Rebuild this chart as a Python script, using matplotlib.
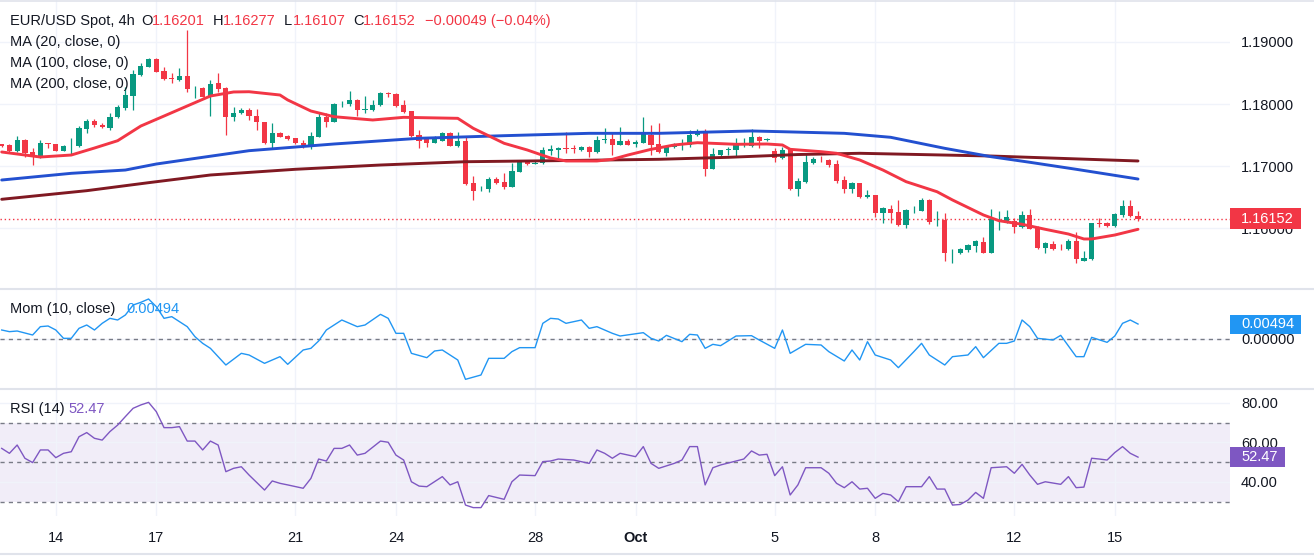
import matplotlib
matplotlib.use('Agg')
import matplotlib.pyplot as plt
import matplotlib.transforms as mtransforms
from matplotlib.patches import Rectangle
from matplotlib.lines import Line2D
import numpy as np

plt.rcParams['font.family'] = ['Liberation Sans', 'DejaVu Sans']

# ---------------- data (EUR/USD 4h candles) ----------------
opens = [1.17355, 1.17339, 1.17247, 1.17419, 1.17220, 1.17134, 1.17366, 1.17350, 1.17242, 1.17320,
         1.17323, 1.17597, 1.17726, 1.17661, 1.17618, 1.17785, 1.17930, 1.18134, 1.18468, 1.18602,
         1.18726, 1.18532, 1.18414, 1.18387, 1.18452, 1.18258, 1.18253, 1.18108, 1.18333, 1.18253,
         1.17796, 1.17849, 1.17903, 1.17812, 1.17704, 1.17366, 1.17527, 1.17484, 1.17446, 1.17366,
         1.17301, 1.17473, 1.17796, 1.17710, 1.18015, 1.18000, 1.18065, 1.17905, 1.17903, 1.17984,
         1.18177, 1.18161, 1.17984, 1.17887, 1.17495, 1.17430, 1.17376, 1.17409, 1.17527, 1.17328,
         1.17403, 1.16720, 1.16624, 1.16624, 1.16790, 1.16742, 1.16667, 1.16909, 1.17059, 1.17040,
         1.17043, 1.17247, 1.17258, 1.17296, 1.17290, 1.17258, 1.17312, 1.17231, 1.17425, 1.17435,
         1.17339, 1.17409, 1.17350, 1.17376, 1.17500, 1.17355, 1.17215, 1.17301, 1.17339, 1.17339,
         1.17505, 1.17527, 1.16952, 1.17177, 1.17265, 1.17258, 1.17333, 1.17323, 1.17473, 1.17425,
         1.17247, 1.17124, 1.17269, 1.16624, 1.16747, 1.17043, 1.17110, 1.17097, 1.17027, 1.16774,
         1.16624, 1.16720, 1.16495, 1.16532, 1.16237, 1.16301, 1.16258, 1.16054, 1.16285, 1.16280,
         1.16452, 1.16125, 1.16129, 1.15598, 1.15591, 1.15645, 1.15715, 1.15780, 1.15602, 1.16113,
         1.16118, 1.16118, 1.16011, 1.16210, 1.15995, 1.15683, 1.15742, 1.15660, 1.15656, 1.15790,
         1.15473, 1.15500, 1.16086, 1.16075, 1.16032, 1.16210, 1.16355, 1.16201]
highs = [1.17360, 1.17355, 1.17484, 1.17430, 1.17296, 1.17419, 1.17370, 1.17360, 1.17339, 1.17446,
         1.17645, 1.17753, 1.17753, 1.17688, 1.17849, 1.17984, 1.18280, 1.18548, 1.18656, 1.18747,
         1.18737, 1.18602, 1.18505, 1.18575, 1.19194, 1.18290, 1.18280, 1.18387, 1.18505, 1.18280,
         1.17946, 1.17930, 1.17930, 1.17914, 1.17715, 1.17688, 1.17554, 1.17495, 1.17450, 1.17419,
         1.17554, 1.17866, 1.17849, 1.18022, 1.18054, 1.18210, 1.18075, 1.18129, 1.18065, 1.18199,
         1.18194, 1.18172, 1.18065, 1.17890, 1.17581, 1.17462, 1.17484, 1.17554, 1.17554, 1.17554,
         1.17462, 1.16839, 1.16683, 1.16817, 1.16828, 1.16892, 1.17043, 1.17070, 1.17081, 1.17097,
         1.17301, 1.17339, 1.17301, 1.17543, 1.17339, 1.17323, 1.17315, 1.17484, 1.17608, 1.17527,
         1.17634, 1.17430, 1.17419, 1.17796, 1.17661, 1.17699, 1.17323, 1.17376, 1.17430, 1.17581,
         1.17591, 1.17591, 1.17285, 1.17262, 1.17301, 1.17446, 1.17446, 1.17591, 1.17484, 1.17457,
         1.17285, 1.17312, 1.17285, 1.16801, 1.17215, 1.17151, 1.17161, 1.17108, 1.17097, 1.16839,
         1.16747, 1.16731, 1.16613, 1.16535, 1.16344, 1.16371, 1.16452, 1.16301, 1.16355, 1.16484,
         1.16462, 1.16274, 1.16237, 1.15656, 1.15672, 1.15742, 1.15806, 1.15860, 1.16301, 1.16280,
         1.16290, 1.16156, 1.16274, 1.16301, 1.16032, 1.15780, 1.15796, 1.15742, 1.15817, 1.15941,
         1.15634, 1.16086, 1.16156, 1.16102, 1.16237, 1.16452, 1.16452, 1.16277]
lows = [1.17310, 1.17231, 1.17231, 1.17151, 1.17016, 1.17124, 1.17285, 1.17235, 1.17236, 1.17177,
        1.17312, 1.17538, 1.17634, 1.17608, 1.17581, 1.17769, 1.17903, 1.17903, 1.18452, 1.18591,
        1.18511, 1.18387, 1.18344, 1.18371, 1.18199, 1.18091, 1.18108, 1.17806, 1.18199, 1.17500,
        1.17731, 1.17839, 1.17742, 1.17581, 1.17355, 1.17285, 1.17462, 1.17419, 1.17355, 1.17285,
        1.17274, 1.17462, 1.17634, 1.17704, 1.17946, 1.17973, 1.17806, 1.17860, 1.17892, 1.17973,
        1.18118, 1.17957, 1.17849, 1.17462, 1.17296, 1.17301, 1.17366, 1.17398, 1.17317, 1.17312,
        1.16688, 1.16452, 1.16602, 1.16586, 1.16704, 1.16624, 1.16656, 1.16898, 1.17011, 1.17027,
        1.17032, 1.17177, 1.17086, 1.17204, 1.17215, 1.17247, 1.17140, 1.17204, 1.17376, 1.17177,
        1.17335, 1.17335, 1.17312, 1.17366, 1.17177, 1.17215, 1.17161, 1.17285, 1.17258, 1.17312,
        1.17484, 1.16839, 1.16946, 1.17151, 1.17177, 1.17161, 1.17312, 1.17312, 1.17285, 1.17398,
        1.17070, 1.17108, 1.16613, 1.16516, 1.16731, 1.17032, 1.17070, 1.16978, 1.16720, 1.16559,
        1.16559, 1.16478, 1.16484, 1.16183, 1.16086, 1.16075, 1.16032, 1.15995, 1.16237, 1.16269,
        1.16065, 1.16032, 1.15473, 1.15430, 1.15581, 1.15618, 1.15618, 1.15591, 1.15598, 1.15968,
        1.16086, 1.15925, 1.15995, 1.15978, 1.15661, 1.15591, 1.15645, 1.15645, 1.15645, 1.15430,
        1.15462, 1.15484, 1.16022, 1.16011, 1.16022, 1.16183, 1.16183, 1.16107]
closes = [1.17323, 1.17247, 1.17419, 1.17215, 1.17140, 1.17366, 1.17355, 1.17242, 1.17323, 1.17328,
          1.17618, 1.17726, 1.17661, 1.17624, 1.17796, 1.17946, 1.18145, 1.18479, 1.18613, 1.18726,
          1.18522, 1.18409, 1.18398, 1.18452, 1.18242, 1.18263, 1.18118, 1.18323, 1.18237, 1.17796,
          1.17849, 1.17903, 1.17812, 1.17704, 1.17366, 1.17527, 1.17473, 1.17441, 1.17366, 1.17333,
          1.17484, 1.17796, 1.17710, 1.18000, 1.18022, 1.18065, 1.17903, 1.17914, 1.17984, 1.18183,
          1.18161, 1.17973, 1.17871, 1.17484, 1.17409, 1.17376, 1.17457, 1.17538, 1.17328, 1.17403,
          1.16710, 1.16602, 1.16629, 1.16790, 1.16731, 1.16667, 1.16914, 1.17059, 1.17027, 1.17043,
          1.17258, 1.17274, 1.17290, 1.17274, 1.17280, 1.17301, 1.17231, 1.17419, 1.17430, 1.17339,
          1.17403, 1.17339, 1.17392, 1.17511, 1.17339, 1.17231, 1.17312, 1.17339, 1.17366, 1.17500,
          1.17527, 1.16952, 1.17194, 1.17258, 1.17269, 1.17339, 1.17350, 1.17473, 1.17409, 1.17430,
          1.17124, 1.17258, 1.16624, 1.16758, 1.17070, 1.17113, 1.17105, 1.17016, 1.16763, 1.16624,
          1.16720, 1.16495, 1.16532, 1.16237, 1.16328, 1.16247, 1.16054, 1.16290, 1.16290, 1.16452,
          1.16102, 1.16129, 1.15591, 1.15602, 1.15661, 1.15726, 1.15796, 1.15602, 1.16140, 1.16129,
          1.16172, 1.16011, 1.16210, 1.15984, 1.15683, 1.15753, 1.15656, 1.15656, 1.15790, 1.15495,
          1.15522, 1.16075, 1.16059, 1.16032, 1.16226, 1.16355, 1.16199, 1.16152]

# moving averages (bar index, value)
ma20_idx = [0, 5, 9, 12, 15, 18, 21, 24, 27, 30, 32, 36, 37, 40, 43, 48, 52, 59, 61, 65, 68, 71,
            73, 77, 79, 81, 84, 87, 90, 95, 99, 101, 102, 106, 108, 111, 114, 117, 121, 123, 127,
            129, 132, 135, 138, 140, 141, 144, 147]
ma20_val = [1.17226, 1.17145, 1.17177, 1.17290, 1.17408, 1.17645, 1.17806, 1.17968, 1.18129,
            1.18194, 1.18198, 1.18145, 1.18065, 1.17887, 1.17795, 1.17742, 1.17785, 1.17769,
            1.17608, 1.17366, 1.17258, 1.17129, 1.17081, 1.17081, 1.17108, 1.17177, 1.17269,
            1.17339, 1.17376, 1.17350, 1.17355, 1.17339, 1.17269, 1.17231, 1.17205, 1.17097,
            1.16935, 1.16747, 1.16585, 1.16452, 1.16210, 1.16118, 1.16060, 1.15979, 1.15903,
            1.15823, 1.15823, 1.15887, 1.15979]
ma100_idx = [0, 9, 16, 20, 26, 32, 43, 54, 65, 76, 85, 97, 101, 109, 115, 122, 128, 133, 139, 147]
ma100_val = [1.16774, 1.16882, 1.16935, 1.17032, 1.17140, 1.17247, 1.17355, 1.17447, 1.17489,
             1.17527, 1.17527, 1.17565, 1.17553, 1.17527, 1.17463, 1.17285, 1.17150, 1.17060,
             1.16947, 1.16790]
ma200_idx = [0, 11, 19, 27, 38, 49, 60, 71, 85, 94, 103, 111, 128, 147]
ma200_val = [1.16463, 1.16602, 1.16731, 1.16855, 1.16947, 1.17016, 1.17069, 1.17085, 1.17108,
             1.17140, 1.17185, 1.17205, 1.17161, 1.17081]

# Momentum (10, close)
mom_idx = [0, 1, 2, 4, 5, 6, 7, 8, 9, 10, 11, 12, 13, 14, 15, 16, 17, 18, 19, 20, 21, 22, 24, 25,
           26, 27, 29, 31, 32, 34, 36, 37, 39, 40, 41, 42, 44, 45, 46, 47, 49, 50, 51, 52, 53, 55,
           56, 57, 59, 60, 62, 63, 65, 66, 67, 69, 70, 71, 72, 73, 75, 76, 77, 79, 80, 83, 84, 85,
           86, 88, 89, 90, 91, 92, 93, 95, 97, 98, 100, 101, 102, 104, 106, 107, 109, 110, 111,
           112, 113, 115, 116, 118, 119, 120, 122, 123, 125, 126, 127, 129, 130, 131, 132, 133,
           134, 136, 137, 139, 140, 141, 143, 144, 145, 146, 147]
mom_val = [0.00297, 0.00242, 0.00264, 0.00132, 0.00407, 0.00429, 0.00297, 0.00022, 0.00022,
           0.00352, 0.00462, 0.00297, 0.00517, 0.00682, 0.00627, 0.00792, 0.01122, 0.01210,
           0.01320, 0.01067, 0.00682, 0.00737, 0.00407, 0.00077, -0.00143, -0.00308, -0.00858,
           -0.00473, -0.00528, -0.00803, -0.00583, -0.00836, -0.00363, -0.00308, -0.00066,
           0.00297, 0.00627, 0.00517, 0.00407, 0.00462, 0.00814, 0.00682, 0.00187, 0.00187,
           -0.00473, -0.00616, -0.00396, -0.00363, -0.00693, -0.01331, -0.01188, -0.00638,
           -0.00638, -0.00418, -0.00286, -0.00286, 0.00517, 0.00682, 0.00660, 0.00517, 0.00627,
           0.00352, 0.00407, 0.00187, 0.00099, 0.00209, 0.00022, -0.00066, 0.00121, -0.00088,
           0.00154, 0.00132, -0.00308, -0.00176, -0.00220, 0.00099, 0.00110, -0.00033, -0.00308,
           0.00297, -0.00473, -0.00176, -0.00198, -0.00418, -0.00726, -0.00363, -0.00693,
           -0.00088, -0.00528, -0.00693, -0.00946, -0.00418, -0.00143, -0.00528, -0.00858,
           -0.00583, -0.00528, -0.00253, -0.00616, -0.00143, -0.00143, -0.00066, 0.00627,
           0.00407, 0.00022, -0.00033, 0.00121, -0.00583, -0.00583, 0.00055, -0.00110, 0.00099,
           0.00517, 0.00627, 0.00494]

# RSI (14)
rsi_idx = [0, 1, 2, 3, 4, 5, 6, 7, 8, 9, 10, 11, 12, 13, 14, 15, 16, 17, 18, 19, 20, 21, 22, 23,
           24, 25, 26, 27, 28, 29, 30, 31, 32, 34, 35, 36, 37, 39, 40, 41, 42, 43, 44, 45, 46, 47,
           49, 50, 51, 52, 53, 54, 55, 57, 58, 59, 60, 61, 62, 63, 65, 66, 67, 69, 70, 71, 72, 74,
           76, 77, 78, 79, 80, 82, 83, 84, 85, 87, 88, 89, 90, 91, 92, 93, 95, 96, 97, 98, 99,
           100, 101, 102, 103, 104, 106, 107, 108, 109, 110, 111, 112, 113, 114, 115, 116, 117,
           119, 120, 121, 122, 123, 124, 125, 126, 127, 128, 130, 131, 132, 133, 134, 135, 137,
           138, 139, 140, 141, 142, 143, 144, 145, 146, 147]
rsi_val = [56.9, 54.4, 58.6, 51.9, 49.7, 56.1, 56.1, 52.2, 54.4, 55.2, 62.8, 64.9, 62.0, 61.1,
           65.4, 68.7, 73.0, 77.2, 78.9, 80.2, 75.5, 67.4, 67.4, 67.9, 60.6, 60.6, 56.1, 60.6,
           58.6, 45.1, 46.8, 47.6, 43.4, 35.8, 40.4, 39.2, 38.4, 36.7, 41.7, 51.5, 50.5, 56.9,
           56.9, 58.6, 53.5, 54.4, 60.6, 60.0, 53.5, 51.0, 40.0, 37.8, 37.5, 42.6, 38.4, 40.0,
           28.2, 26.9, 26.9, 33.0, 31.1, 40.0, 43.4, 43.1, 50.2, 50.5, 51.5, 51.0, 49.3, 56.1,
           54.4, 51.9, 54.4, 52.7, 57.8, 49.3, 46.8, 49.3, 51.0, 57.8, 57.8, 38.4, 47.1, 48.5,
           50.5, 51.5, 55.6, 53.5, 53.9, 43.1, 47.6, 33.3, 38.4, 47.1, 47.1, 44.3, 39.2, 37.0,
           40.0, 36.3, 36.7, 31.6, 34.1, 33.3, 29.9, 37.5, 37.5, 42.6, 36.3, 36.3, 28.2, 28.5,
           30.7, 34.6, 31.6, 47.1, 47.6, 44.3, 48.8, 43.4, 38.7, 40.0, 38.7, 42.6, 37.0, 37.3,
           51.9, 51.5, 51.0, 54.8, 57.8, 54.4, 52.47]

tick_idx = [7, 20, 38, 51, 69, 82, 100, 113, 131, 144]
tick_labels = ['14', '17', '21', '24', '28', 'Oct', '5', '8', '12', '15']
price_ticks = [1.16, 1.17, 1.18, 1.19]
rsi_ticks = [40, 60, 80]
last_price = 1.16152
last_mom = 0.00494
last_rsi = 52.47

# ---------------- style ----------------
GREEN = '#089981'
RED = '#F23645'
BLUE_MA = '#2350D0'
MAROON = '#801922'
MOMC = '#2196F3'
RSIC = '#7E57C2'
TXT = '#131722'
GRID = '#F0F3FA'
SEP = '#E0E3EB'

W, H = 1314, 556
fig = plt.figure(figsize=(W / 100, H / 100), dpi=100)
fig.patch.set_facecolor('white')


def fy(y):
    return 1 - y / H


AXW = 1230 / W
ax = fig.add_axes([0, fy(288), AXW, 288 / H])
axm = fig.add_axes([0, fy(388), AXW, 98 / H], sharex=ax)
axr = fig.add_axes([0, fy(516), AXW, 126 / H], sharex=ax)

for a in (ax, axm, axr):
    for s in a.spines.values():
        s.set_visible(False)
    a.yaxis.tick_right()
    a.tick_params(axis='both', length=0, labelsize=10.5, labelcolor=TXT, pad=8)
    a.set_xticks(tick_idx)
    a.grid(True, color=GRID, lw=1)
    a.set_axisbelow(True)
ax.tick_params(labelbottom=False)
axm.tick_params(labelbottom=False)
axr.set_xticklabels(tick_labels)
axr.tick_params(axis='x', pad=11)
for lab in axr.get_xticklabels():
    if lab.get_text() == 'Oct':
        lab.set_fontweight('bold')

# candles
o = np.array(opens); h = np.array(highs); l = np.array(lows); c = np.array(closes)
idx = np.arange(len(o))
cols = np.where(c >= o, GREEN, RED)
body_low = np.minimum(o, c)
body_h = np.maximum(np.abs(c - o), 0.00003)
ax.vlines(idx, l, h, colors=cols, lw=0.9, zorder=3)
ax.bar(idx, body_h, bottom=body_low, width=0.68, color=cols, linewidth=0, zorder=4)

line_kw = dict(lw=2.1, solid_capstyle='round', solid_joinstyle='round')
ax.plot(ma200_idx, ma200_val, color=MAROON, zorder=5, **line_kw)
ax.plot(ma100_idx, ma100_val, color=BLUE_MA, zorder=5, **line_kw)
ax.plot(ma20_idx, ma20_val, color=RED, zorder=6, **line_kw)
ax.axhline(last_price, color=RED, lw=1, ls=(0, (1, 2)), zorder=2)

ax.set_xlim(-0.22, 158.9)
ax.set_ylim(1.150323, 1.196774)
ax.set_yticks(price_ticks)
ax.set_yticklabels([f'{v:.5f}' for v in price_ticks])

# momentum pane
axm.axhline(0, color='#787B86', lw=1, ls=(0, (3, 3)))
axm.plot(mom_idx, mom_val, color=MOMC, lw=1.0, zorder=4)
axm.set_ylim(-0.01617, 0.01617)
axm.set_yticks([0])
axm.set_yticklabels(['0.00000'])

# RSI pane
axr.axhspan(30, 70, color=RSIC, alpha=0.1, lw=0, zorder=0)
for lvl in (70, 50, 30):
    axr.axhline(lvl, color='#787B86', lw=1, ls=(0, (3, 3)), zorder=1)
axr.plot(rsi_idx, rsi_val, color=RSIC, lw=1.0, zorder=4)
axr.set_ylim(22.66, 86.46)
axr.set_yticks(rsi_ticks)
axr.set_yticklabels([f'{v:.2f}' for v in rsi_ticks])


def value_box(a, val, text, color, hgt, wpx):
    tr = mtransforms.blended_transform_factory(a.transAxes, a.transData)
    a.add_patch(Rectangle((1.0, val - hgt / 2), wpx / 1230, hgt, transform=tr,
                          facecolor=color, edgecolor='none', clip_on=False, zorder=10))
    a.text(1 + 11 / 1230, val, text, transform=tr, color='white', fontsize=10.5,
           va='center', ha='left', zorder=11, clip_on=False)


value_box(ax, last_price, f'{last_price:.5f}', RED, 21 / 6200, 71)
value_box(axm, last_mom, f'{last_mom:.5f}', MOMC, 19 * 0.00033, 71)
value_box(axr, last_rsi, f'{last_rsi:.2f}', RSIC, 10.2, 55)


# legends
def ftext(x, y, s, color=TXT, size=10.5):
    fig.text(x / W, fy(y), s, color=color, fontsize=size, va='center', ha='left')


ftext(10.5, 21, 'EUR/USD Spot, 4h')
ftext(141, 21, 'O'); ftext(151.5, 21, f'{opens[-1]:.5f}', RED)
ftext(212.5, 21, 'H'); ftext(223, 21, f'{highs[-1]:.5f}', RED)
ftext(284, 21, 'L'); ftext(292.5, 21, f'{lows[-1]:.5f}', RED)
ftext(353.5, 21, 'C'); ftext(363, 21, f'{closes[-1]:.5f}', RED)
ftext(425, 21, '\u22120.00049 (\u22120.04%)', RED)
ftext(10.5, 42, 'MA (20, close, 0)')
ftext(10.5, 63, 'MA (100, close, 0)')
ftext(10.5, 84, 'MA (200, close, 0)')
ftext(10, 309, 'Mom (10, close)')
ftext(126, 309, f'{last_mom:.5f}', MOMC)
ftext(10, 409, 'RSI (14)')
ftext(68, 409, f'{last_rsi:.2f}', RSIC)

# pane separators / borders
for yy, lw in ((0.8, 1.2), (289, 1.5), (389, 1.5), (554, 1.5)):
    fig.add_artist(Line2D([0, 1], [fy(yy), fy(yy)], color=SEP, lw=lw))

fig.savefig('out.png', dpi=100, facecolor='white')
